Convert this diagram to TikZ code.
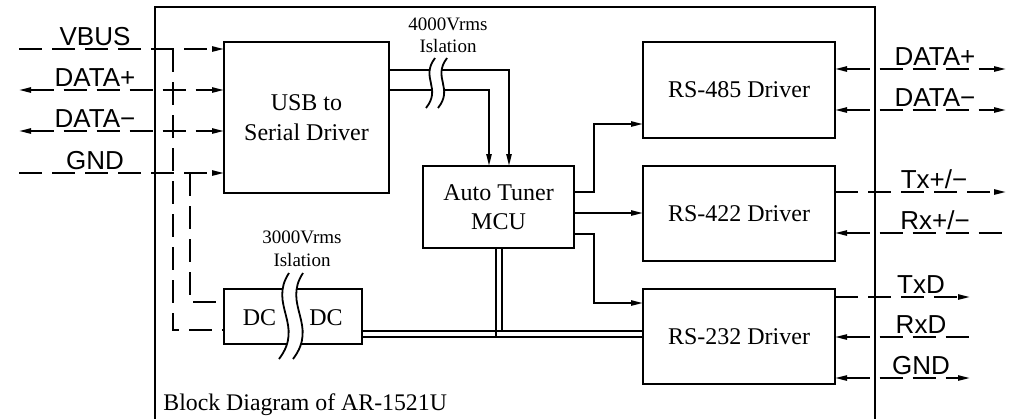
\documentclass[tikz,border=0pt]{standalone}
\usepackage{fontspec}
\setmainfont{Liberation Serif}
\newfontfamily\lbl{Liberation Sans}
\usetikzlibrary{arrows.meta}
\tikzset{
  blk/.style={draw, line width=0.9pt, inner sep=0pt, outer sep=0pt, align=center, font=\fontsize{12}{14.8}\selectfont},
  wire/.style={line width=0.9pt},
  sig/.style={line width=0.9pt, dash pattern=on 11.5pt off 5pt},
  tip/.style={-{Triangle[length=6pt,width=2.6pt]}},
  rtip/.style={{Triangle[length=6pt,width=2.6pt]}-},
  btip/.style={{Triangle[length=6pt,width=2.6pt]}-{Triangle[length=6pt,width=2.6pt]}},
  lab/.style={font=\lbl\fontsize{13}{13}\selectfont, anchor=base, inner sep=0pt},
  iso/.style={font=\fontsize{9.5}{9.5}\selectfont, anchor=base, inner sep=0pt},
  brk/.style={line width=0.9pt}
}
\begin{document}
\begin{tikzpicture}[x=0.5pt,y=-0.5pt]
\useasboundingbox (0,0) rectangle (1016,418);
\clip (0,0) rectangle (1016,418);
% outer frame
\draw[line width=0.9pt] (155,430) -- (155,7) -- (875,7) -- (875,430);
\node[anchor=base west, inner sep=0pt, font=\fontsize{11.9}{13}\selectfont] (title) at (163,410) {Block Diagram of AR-1521U};

% blocks
\node[blk, minimum width=82.5pt, minimum height=75.5pt] (usb) at (306.5,117.5) {USB to\\Serial Driver};
\node[blk, minimum width=75.5pt, minimum height=41pt] (mcu) at (498.5,207) {Auto Tuner\\MCU};
\node[blk, minimum width=96pt, minimum height=48pt] (r485) at (739,90) {RS-485 Driver};
\node[blk, minimum width=96pt, minimum height=47.5pt] (r422) at (739,213.5) {RS-422 Driver};
\node[blk, minimum width=96pt, minimum height=47.5pt] (r232) at (739,336.5) {RS-232 Driver};
\node[blk, minimum width=69pt, minimum height=27.5pt] (dc) at (293,316.5) {};
\node[inner sep=0pt, font=\fontsize{12}{13}\selectfont] (dcl) at (259.5,318) {DC};
\node[inner sep=0pt, font=\fontsize{12}{13}\selectfont] (dcr) at (326,318) {DC};

% USB -> MCU through 4000V isolation
\draw[wire, tip] (usb.east |- 0,70) -- (509,70) -- (509,0 |- mcu.north);
\draw[wire, tip] (usb.east |- 0,90) -- (489,90) -- (489,0 |- mcu.north);
\fill[white] (435,58) .. controls (420,78) and (442,88) .. (426,108) -- (438,108) .. controls (454,88) and (432,78) .. (447,58) -- cycle;
\draw[brk] (435,58) .. controls (420,78) and (442,88) .. (426,108);
\draw[brk] (447,58) .. controls (432,78) and (454,88) .. (438,108);
\node[iso] (iso1a) at (448,30) {4000Vrms};
\node[iso] (iso1b) at (448,52) {Islation};

% MCU -> drivers
\draw[wire, tip] (mcu.east |- 0,192) -- (594,192) -- (594,124) -- (r485.west |- 0,124);
\draw[wire, tip] (mcu.east |- 0,213) -- (r422.west |- 0,213);
\draw[wire, tip] (mcu.east |- 0,234) -- (594,234) -- (594,303) -- (r232.west |- 0,303);

% power double lines
\draw[wire] (dc.east |- 0,331) -- (r232.west |- 0,331);
\draw[wire] (dc.east |- 0,337) -- (r232.west |- 0,337);
\draw[wire] (496,0 |- mcu.south) -- (496,337);
\draw[wire] (502,0 |- mcu.south) -- (502,331);

% DC isolation break
\fill[white] (289,273) .. controls (268,305) and (305,325) .. (279,359) -- (293,359) .. controls (319,325) and (282,305) .. (303,273) -- cycle;
\draw[brk] (289,273) .. controls (268,305) and (305,325) .. (279,359);
\draw[brk] (303,273) .. controls (282,305) and (319,325) .. (293,359);
\node[iso] (iso2a) at (302,243) {3000Vrms};
\node[iso] (iso2b) at (302,266) {Islation};

% left signals
\coordinate (lvbus) at (19,49);
\coordinate (ldp) at (19,90);
\coordinate (ldm) at (19,131);
\coordinate (lgnd) at (19,173);
\draw[sig, tip] (lvbus) -- (usb.west |- lvbus);
\draw[sig, btip] (ldp) -- (usb.west |- ldp);
\draw[sig, btip] (ldm) -- (usb.west |- ldm);
\draw[sig, tip] (lgnd) -- (usb.west |- lgnd);
\draw[sig] (173,49) -- (173,330) -- (dc.west |- 0,330);
\draw[sig] (190,173) -- (190,302) -- (dc.west |- 0,302);
\node[lab] (tvbus) at (95,45) {VBUS};
\node[lab] (tdp) at (95,86) {DATA+};
\node[lab] (tdm) at (95,127) {DATA−};
\node[lab] (tgnd) at (95,169) {GND};

% right signals
\coordinate (rdp) at (1006,69);
\coordinate (rdm) at (1006,110);
\coordinate (rtx) at (1006,192);
\coordinate (rrx) at (1008,233);
\coordinate (rtxd) at (970,297);
\coordinate (rrxd) at (972,337);
\coordinate (rgnd) at (970,378);
\draw[sig, btip] (r485.east |- rdp) -- (rdp);
\draw[sig, btip] (r485.east |- rdm) -- (rdm);
\draw[sig, tip] (r422.east |- rtx) -- (rtx);
\draw[sig, rtip] (r422.east |- rrx) -- (rrx);
\draw[sig, tip] (r232.east |- rtxd) -- (rtxd);
\draw[sig, rtip] (r232.east |- rrxd) -- (rrxd);
\draw[sig, btip] (r232.east |- rgnd) -- (rgnd);
\node[lab] (tdp2) at (935,65) {DATA+};
\node[lab] (tdm2) at (935,106) {DATA−};
\node[lab] (ttx) at (934,188) {Tx+/−};
\node[lab] (trx) at (935,229) {Rx+/−};
\node[lab] (ttxd) at (921,293) {TxD};
\node[lab] (trxd) at (921,333) {RxD};
\node[lab] (tgnd2) at (921,374) {GND};
\end{tikzpicture}
\end{document}
